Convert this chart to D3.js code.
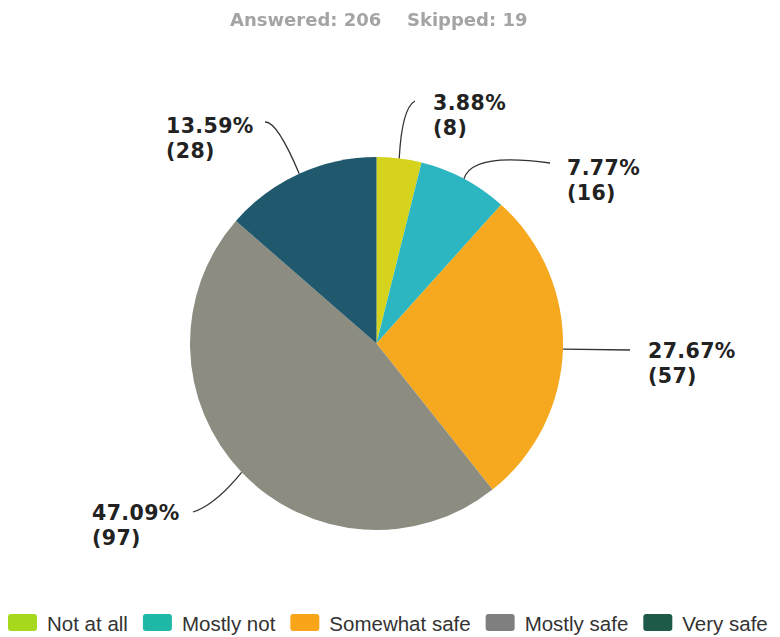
<!DOCTYPE html>
<html>
<head>
<meta charset="utf-8">
<script src="https://cdn.jsdelivr.net/npm/d3@7"></script>
<style>
  html, body { margin: 0; padding: 0; background: #fff; }
  svg { display: block; }
</style>
</head>
<body>
<svg id="chart" width="780" height="637"></svg>
<script>
// Survey responses
const categories = ["Not at all", "Mostly not", "Somewhat safe", "Mostly safe", "Very safe"];
const counts = [8, 16, 57, 97, 28];
const answered = 206;
const skipped = 19;

// Slice and legend colours
const sliceColors = ["#d6d31e", "#2bb6c1", "#f6a81e", "#8d8c80", "#20596d"];
const legendColors = ["#a6d81c", "#1fb7a5", "#f9a51a", "#7f7f7f", "#1e5a4a"];

// Callout placement for each slice: text anchor and the bend/end of the leader
const callouts = [
  { tx: 433, ty: 110, ctrl: [402, 108], end: [415, 101] },
  { tx: 567, ty: 175, ctrl: [472, 152], end: [550, 163] },
  { tx: 648, ty: 358, ctrl: null,       end: [630, 350] },
  { tx: 92,  ty: 520, ctrl: [215, 505], end: [193, 512] },
  { tx: 166, ty: 133, ctrl: [277, 121], end: [265, 122] }
];

const svg = d3.select("#chart");
const cx = 376.5, cy = 343.5, radius = 186.5;

const defs = svg.append("defs");
defs.append("filter").attr("id", "soft")
  .append("feGaussianBlur").attr("stdDeviation", 0.6);

// Header line
const header = svg.append("g").attr("filter", "url(#soft)")
  .attr("font-family", "DejaVu Sans, Verdana, sans-serif")
  .attr("font-weight", "bold")
  .attr("font-size", 18)
  .attr("fill", "#a4a4a4");
header.append("text").attr("x", 230).attr("y", 26).text(`Answered: ${answered}`);
header.append("text").attr("x", 407).attr("y", 26).text(`Skipped: ${skipped}`);

// Pie
const data = categories.map((c, i) => ({ name: c, value: counts[i], i }));
const pie = d3.pie().value(d => d.value).sort(null);
const arcs = pie(data);
const arc = d3.arc().innerRadius(0).outerRadius(radius);

const g = svg.append("g").attr("transform", `translate(${cx},${cy})`);
g.selectAll("path.slice")
  .data(arcs)
  .join("path")
  .attr("class", "slice")
  .attr("d", arc)
  .attr("fill", d => sliceColors[d.data.i]);

// Leader lines from the middle of each slice's rim
const total = d3.sum(counts);
const fmt = d3.format(".2f");
const labels = svg.append("g");
arcs.forEach((a, k) => {
  const mid = (a.startAngle + a.endAngle) / 2;
  const sx = cx + radius * Math.sin(mid);
  const sy = cy - radius * Math.cos(mid);
  const c = callouts[k];
  const p = d3.path();
  p.moveTo(sx, sy);
  if (c.ctrl) p.quadraticCurveTo(c.ctrl[0], c.ctrl[1], c.end[0], c.end[1]);
  else p.lineTo(c.end[0], c.end[1]);
  labels.append("path")
    .attr("d", p.toString())
    .attr("fill", "none")
    .attr("stroke", "#333")
    .attr("stroke-width", 1.3);

  const t = labels.append("text")
    .attr("font-family", "DejaVu Sans, Verdana, sans-serif")
    .attr("font-weight", "bold")
    .attr("font-size", 20.5)
    .attr("letter-spacing", 0.4)
    .attr("fill", "#222");
  t.append("tspan").attr("x", c.tx).attr("y", c.ty)
    .text(`${fmt(a.data.value / total * 100)}%`);
  t.append("tspan").attr("x", c.tx).attr("y", c.ty + 25)
    .text(`(${a.data.value})`);
});

// Legend
const legend = svg.append("g")
  .attr("font-family", "Liberation Sans, Arial, sans-serif")
  .attr("font-size", 20.5)
  .attr("fill", "#333");
let lx = 8;
categories.forEach((c, i) => {
  legend.append("rect")
    .attr("x", lx).attr("y", 614)
    .attr("width", 29).attr("height", 17)
    .attr("rx", 3)
    .attr("fill", legendColors[i]);
  const txt = legend.append("text")
    .attr("x", lx + 39).attr("y", 631)
    .text(c);
  lx += 39 + txt.node().getComputedTextLength() + 15;
});
</script>
</body>
</html>
